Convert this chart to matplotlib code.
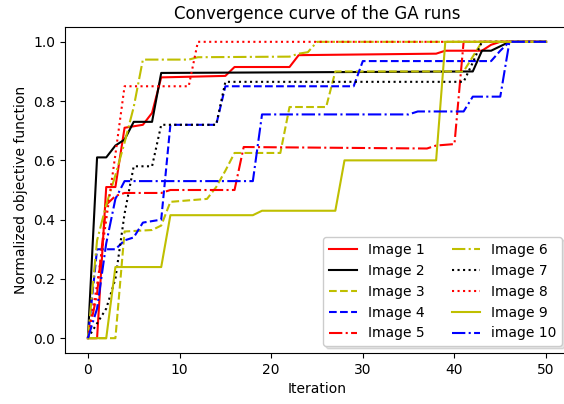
import matplotlib
matplotlib.use("Agg")
import matplotlib.pyplot as plt

# breakpoints (iteration, normalized objective)
x_img1 = [0, 1, 2, 3, 4, 6, 7, 8, 15, 16, 22, 23, 38, 39, 43, 44, 45, 50]
y_img1 = [0, 0, 0.51, 0.51, 0.71, 0.72, 0.76, 0.88, 0.885, 0.915, 0.915, 0.955, 0.96, 0.97, 0.97, 0.99, 1.0, 1.0]

x_img2 = [0, 1, 2, 3, 4, 5, 7, 8, 42, 43, 44, 45, 46, 50]
y_img2 = [0, 0.61, 0.61, 0.65, 0.67, 0.73, 0.73, 0.895, 0.9, 0.97, 0.97, 0.985, 1.0, 1.0]

x_img3 = [0, 3, 4, 7, 8, 9, 13, 14, 15, 16, 21, 22, 26, 27, 41, 42, 43, 50]
y_img3 = [0, 0, 0.36, 0.365, 0.38, 0.46, 0.47, 0.51, 0.565, 0.625, 0.625, 0.78, 0.78, 0.9, 0.9, 0.95, 1.0, 1.0]

x_img4 = [0, 1, 3, 4, 5, 6, 8, 9, 14, 15, 29, 30, 44, 45, 46, 50]
y_img4 = [0, 0.3, 0.3, 0.33, 0.34, 0.39, 0.40, 0.72, 0.72, 0.85, 0.85, 0.935, 0.935, 0.97, 1.0, 1.0]

x_img5 = [0, 1, 2, 3, 4, 8, 9, 16, 17, 37, 38, 40, 41, 50]
y_img5 = [0, 0.15, 0.45, 0.48, 0.49, 0.49, 0.50, 0.50, 0.645, 0.64, 0.65, 0.655, 1.0, 1.0]

x_img6 = [0, 1, 2, 3, 4, 5, 6, 11, 12, 22, 23, 24, 25, 50]
y_img6 = [0, 0.33, 0.45, 0.55, 0.66, 0.78, 0.94, 0.94, 0.948, 0.95, 0.96, 0.965, 1.0, 1.0]

x_img7 = [0, 2, 3, 4, 5, 7, 8, 14, 15, 41, 42, 43, 50]
y_img7 = [0, 0.1, 0.2, 0.42, 0.58, 0.58, 0.72, 0.72, 0.865, 0.865, 0.93, 1.0, 1.0]

x_img8 = [0, 1, 2, 3, 4, 11, 12, 50]
y_img8 = [0, 0.18, 0.4, 0.62, 0.85, 0.85, 1.0, 1.0]

x_img9 = [0, 2, 3, 8, 9, 18, 19, 27, 28, 38, 39, 50]
y_img9 = [0, 0, 0.24, 0.24, 0.415, 0.415, 0.43, 0.43, 0.6, 0.6, 1.0, 1.0]

x_img10 = [0, 1, 2, 3, 4, 18, 19, 35, 36, 41, 42, 45, 46, 50]
y_img10 = [0, 0.1, 0.32, 0.47, 0.53, 0.53, 0.755, 0.755, 0.765, 0.765, 0.815, 0.815, 1.0, 1.0]

labels = ['Image 1', 'Image 2', 'Image 3', 'Image 4', 'Image 5',
          'Image 6', 'Image 7', 'Image 8', 'Image 9', 'image 10']

fig = plt.figure(figsize=(5.64, 4.04), dpi=100)
# axes runs a bit past the right edge, like the cropped original
ax = fig.add_axes([65/564, 51/404, 504/564, 326/404])

ax.plot(x_img1, y_img1, 'r-', label=labels[0])
ax.plot(x_img2, y_img2, 'k-', label=labels[1])
ax.plot(x_img3, y_img3, 'y--', label=labels[2])
ax.plot(x_img4, y_img4, 'b--', label=labels[3])
ax.plot(x_img5, y_img5, 'r-.', label=labels[4])
ax.plot(x_img6, y_img6, 'y-.', label=labels[5])
ax.plot(x_img7, y_img7, 'k:', label=labels[6])
ax.plot(x_img8, y_img8, 'r:', label=labels[7])
ax.plot(x_img9, y_img9, 'y-', label=labels[8])
ax.plot(x_img10, y_img10, 'b-.', label=labels[9])

ax.set_title('Convergence curve of the GA runs')
ax.set_xlabel('Iteration')
ax.set_ylabel('Normalized objective function')
ax.legend(loc='lower right', ncol=2, shadow={'alpha': 0.15})

fig.savefig('out.png', dpi=100)
